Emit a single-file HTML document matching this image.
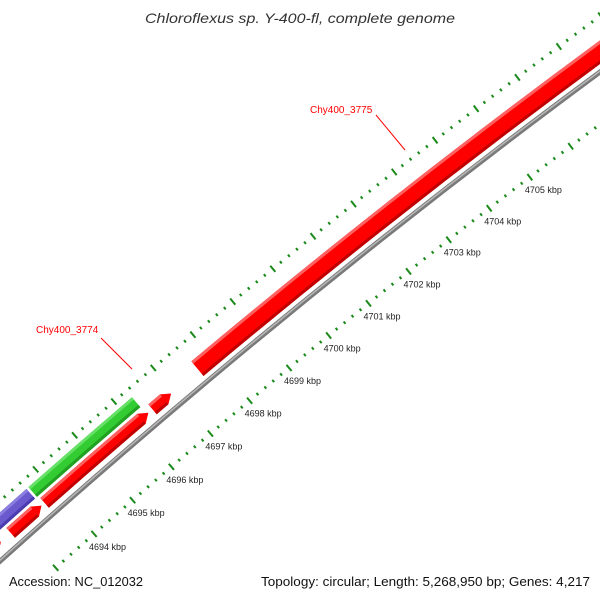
<!DOCTYPE html>
<html><head><meta charset="utf-8"><style>
body{margin:0;background:#fff;width:600px;height:600px;overflow:hidden}
svg{display:block}
text{font-family:"Liberation Sans","DejaVu Sans",sans-serif}
</style></head><body>
<svg id="s" width="600" height="600" viewBox="0 0 600 600" xmlns="http://www.w3.org/2000/svg">
<g id="g"></g>
<text x="300" y="23" text-anchor="middle" font-size="14" font-style="italic" fill="#333" textLength="310" lengthAdjust="spacingAndGlyphs">Chloroflexus sp. Y-400-fl, complete genome</text>
<text x="9" y="586" font-size="12.5" fill="#111" textLength="134" lengthAdjust="spacingAndGlyphs">Accession: NC_012032</text>
<text x="261" y="586" font-size="12.5" fill="#111" textLength="329" lengthAdjust="spacingAndGlyphs">Topology: circular; Length: 5,268,950 bp; Genes: 4,217</text>
<text x="310" y="113" font-size="10" fill="#f00">Chy400_3775</text>
<line x1="376" y1="115" x2="405" y2="150" stroke="#f00" stroke-width="1"/>
<text x="36" y="333" font-size="10" fill="#f00">Chy400_3774</text>
<line x1="101" y1="338" x2="132" y2="369" stroke="#f00" stroke-width="1"/>
</svg>
<script>
var cx=5396,cy=6566,R=8073;
var g=document.getElementById('g');
var NS='http://www.w3.org/2000/svg';
function ang(x,y){return Math.atan2(y-cy,x-cx);}
function pt(r,a){return [cx+r*Math.cos(a),cy+r*Math.sin(a)];}
function add(tag,attrs){var e=document.createElementNS(NS,tag);for(var k in attrs)e.setAttribute(k,attrs[k]);g.appendChild(e);return e;}
function arcPath(r,a1,a2){var p=pt(r,a1),q=pt(r,a2);return 'M'+p[0]+' '+p[1]+' A'+r+' '+r+' 0 0 1 '+q[0]+' '+q[1];}
var A0=ang(-50,620),A1=ang(660,20);
add('path',{d:arcPath(R,A0,A1),stroke:'#7a7a7a','stroke-width':5,fill:'none'});
add('path',{d:arcPath(R+0.8,A0,A1),stroke:'#b8b8b8','stroke-width':1.5,fill:'none'});
function feat(rc,th,a1,a2,arrow,col,light,dark){
  var ri=rc-th/2,ro=rc+th/2,ah=9/R;
  var e=arrow?a2-ah:a2;
  var d='M'+pt(ro,a1).join(' ')+' A'+ro+' '+ro+' 0 0 1 '+pt(ro,e).join(' ');
  if(arrow){d+=' L'+pt(rc,a2).join(' ');}
  d+=' L'+pt(ri,e).join(' ')+' A'+ri+' '+ri+' 0 0 0 '+pt(ri,a1).join(' ')+' Z';
  add('path',{d:d,fill:col});
  add('path',{d:'M'+pt(ro-1.5,a1).join(' ')+' A'+ro+' '+ro+' 0 0 1 '+pt(ro-1.5,e).join(' '),stroke:light,'stroke-width':3,fill:'none'});
  add('path',{d:'M'+pt(ri+1.5,a1).join(' ')+' A'+ri+' '+ri+' 0 0 1 '+pt(ri+1.5,e).join(' '),stroke:dark,'stroke-width':3,fill:'none'});
}
var RL=R+14,GL=R+30;
feat(R+16,19,ang(196,367),A1,false,'#f00','#ff6060','#c00000');
feat(GL,13,ang(30,489),ang(136,402),false,'#33cc33','#66e066','#22a022');
feat(GL,13,A0,ang(31,494),false,'#6a5acd','#8a7ee0','#4a3cae');
feat(RL,13,ang(42,500),ang(146,410),true,'#f00','#ff6060','#c00000');
feat(RL,13,ang(9,531),ang(41,505),true,'#f00','#ff6060','#c00000');
feat(RL,13,ang(148,404),ang(169,391),true,'#f00','#ff6060','#c00000');
feat(RL,13,A0,ang(3,544),true,'#f00','#ff6060','#c00000');
function ticks(r,aRef,step,labels){
  for(var k=-30;k<=80;k++){
    var a=aRef+k*step/5;
    if(a<A0||a>A1)continue;
    var major=(k%5===0);
    var L=major?8:3;
    var p=pt(r-L/2,a),q=pt(r+L/2,a);
    if(p[1]>572&&q[1]>572)continue;
    add('line',{x1:p[0],y1:p[1],x2:q[0],y2:q[1],stroke:'#1a8a1a','stroke-width':2});
    if(labels&&major){
      var n=4694+k/5;
      var c=pt(r,a);
      if(c[0]>0&&c[0]<550&&c[1]<560){
        var t=add('text',{x:c[0]-5,y:c[1]+16,'font-size':9,fill:'#222'});
        t.textContent=n+' kbp';
      }
    }
  }
}
var RI=R-42,RO=R+45;
var aI=ang(95,535),aI2=ang(532,180);
var stepI=(aI2-aI)/11;
ticks(RI,aI,stepI,true);
ticks(RO,ang(110,397),stepI,false);
</script>
</body></html>
